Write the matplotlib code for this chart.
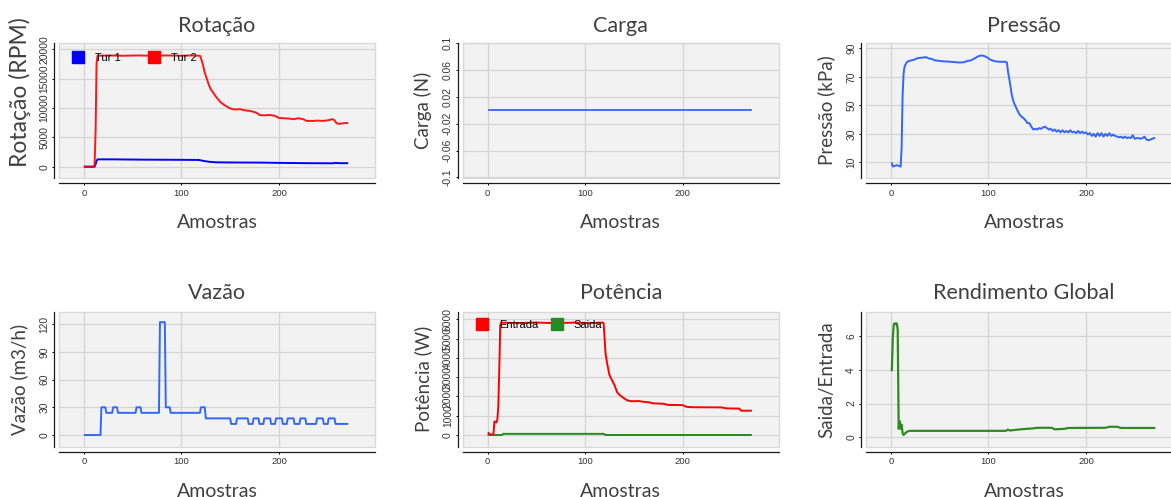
import matplotlib
matplotlib.use('Agg')
import matplotlib.pyplot as plt
from matplotlib.lines import Line2D
from matplotlib import font_manager

names = {f.name for f in font_manager.fontManager.ttflist}
NARROW = 'Liberation Sans Narrow' if 'Liberation Sans Narrow' in names else 'Liberation Sans'
plt.rcParams['font.family'] = ['Lato', 'DejaVu Sans']

# ---------------- data ----------------
rot_x_tur1 = [1, 11, 12, 13, 14, 30, 60, 90, 118, 122, 128, 135, 150, 180, 200, 230, 255, 258, 262, 270]
rot_y_tur1 = [0, 0, 400, 1000, 1250, 1250, 1200, 1180, 1150, 1000, 850, 750, 720, 700, 650, 600, 580, 650, 600, 600]
rot_x_tur2 = [1, 10, 11, 12, 13, 14, 25, 40, 55, 70, 85, 100, 110, 119, 120, 122, 124, 126, 128, 130,
              133, 136, 140, 144, 148, 152, 156, 160, 165, 170, 175, 178, 180, 185, 190, 195,
              198, 200, 205, 210, 215, 220, 225, 228, 235, 240, 245, 250, 255, 257, 259, 262, 266, 270]
rot_y_tur2 = [0, 0, 300, 6000, 17500, 18900, 18950, 18900, 18950, 18900, 18950, 18900, 18950, 18900, 18500, 17400, 16000, 15000, 14000, 13200,
              12500, 11800, 11000, 10500, 10100, 9800, 9750, 9800, 9600, 9500, 9300, 9100, 8800, 8750, 8800, 8700,
              8500, 8300, 8250, 8200, 8100, 8250, 8100, 7800, 7800, 7850, 7800, 7900, 8100, 7900, 7400, 7300, 7400, 7450]

carga_x = [1, 270]
carga_y = [0, 0]

pres_x = [1, 2, 4, 6, 8, 10, 11, 12, 13, 14, 16, 18, 21, 24, 27, 30, 33, 36, 39, 42, 45, 48, 51, 55, 60, 65, 70, 75,
          78, 82, 86, 90, 93, 96, 99, 102, 106, 110, 114, 118, 119, 120, 122, 124, 126, 128, 130, 132, 134, 136,
          138, 140, 142, 144, 146,
          148, 150, 152, 154, 156, 158, 160, 162, 164, 166, 168, 170, 172, 174, 176, 178, 180, 182, 184, 186,
          188, 190, 192, 194, 196, 198, 200, 202, 204, 206, 208, 210, 212, 214, 216, 218, 220, 222, 224, 226,
          228, 230, 232, 234, 236, 238, 240, 242, 244, 246, 248, 250, 252, 254, 256, 258, 260, 262, 264, 266,
          268, 270]
pres_y = [9.3, 7, 7.5, 8, 7.5, 7, 20, 56, 72, 77, 80, 81, 81.5, 82, 83, 83.3, 83.5, 83.8, 82.8, 82.5, 81.5, 81.3, 81, 80.8, 80.6, 80.3, 80, 80.2,
          81, 81.5, 83, 84.5, 85, 84.5, 83.5, 82, 81, 80.6, 80.5, 80.5, 80, 74, 66, 57, 52, 49, 46, 43.5, 42, 41,
          39.5, 37.5, 37.5, 35, 33,
          33.5, 33, 34, 33.5, 34.5, 35, 34, 33, 33.5, 32, 33, 31.5, 32.5, 31, 32.5, 31, 32, 31, 32.5, 31,
          31.5, 30.5, 32, 30.5, 31.5, 30.5, 31, 29.5, 30.5, 28.5, 30, 28, 30.5, 28.5, 30.5, 28, 30, 28.5, 30.5, 28.5,
          29.5, 28.5, 28, 27.5, 28, 27, 28, 27, 27.5, 27, 29, 26.5, 27, 27, 26.5, 27, 28, 26, 25.5, 26,
          26.5, 27]

vaz_x = [1, 17, 18, 22, 23, 29, 30, 34, 35, 53, 54, 58, 59, 77, 78, 83, 84, 88, 89, 119,
         120, 124, 125, 150, 151, 156, 157, 168, 169, 173, 174, 179, 180, 184, 185, 191, 192, 196, 197, 203,
         204, 208, 209, 215, 216, 221, 222, 227, 228, 238, 239, 245, 246, 250, 251, 257, 258, 270]
vaz_y = [0, 0, 30, 30, 24, 24, 30, 30, 24, 24, 30, 30, 24, 24, 122, 122, 30, 30, 24, 24,
         30, 30, 18, 18, 12, 12, 18, 18, 12, 12, 18, 18, 12, 12, 18, 18, 12, 12, 18, 18,
         12, 12, 18, 18, 12, 12, 18, 18, 12, 12, 18, 18, 12, 12, 18, 18, 12, 12]

pot_x_ent = [1, 2, 6, 7, 9, 10, 11, 12, 13, 14, 30, 50, 70, 90, 105, 118, 119, 120, 121, 123,
             125, 127, 130, 133, 136, 140, 143, 147, 155, 160, 165, 170, 180, 185, 200, 204, 210, 240, 245, 258,
             260, 270]
pot_y_ent = [100, 30, 30, 700, 650, 800, 1500, 3400, 5700, 5830, 5800, 5830, 5800, 5830, 5800, 5830, 5800, 5000, 4200, 3600,
             3100, 2900, 2600, 2200, 2050, 1900, 1800, 1750, 1760, 1720, 1700, 1640, 1620, 1560, 1550, 1460, 1440, 1430, 1380, 1370,
             1260, 1260]
pot_x_sai = [1, 15, 16, 119, 121, 270]
pot_y_sai = [0, 0, 60, 60, 0, 0]

ren_x = [1, 2, 3, 4, 5, 6, 7, 8, 9, 10, 11, 12, 13, 15, 17, 20, 60, 100, 118, 120, 122, 125,
         130, 135, 140, 145, 150, 165, 168, 178, 182, 220, 224, 232, 236, 270]
ren_y = [3.98, 5.9, 6.7, 6.75, 6.7, 6.75, 6.4, 0.5, 0.95, 0.5, 0.75, 0.25, 0.14, 0.25, 0.35, 0.38, 0.38, 0.38, 0.38, 0.45, 0.4, 0.42,
         0.45, 0.48, 0.5, 0.52, 0.56, 0.56, 0.47, 0.5, 0.55, 0.56, 0.62, 0.62, 0.55, 0.55]

x_ticks = [0, 100, 200]
rot_ticks = [0, 5000, 10000, 15000, 20000]
carga_ticks = [-0.1, -0.06, -0.02, 0.02, 0.06, 0.1]
carga_labels = ['-0.1', '-0.06', '-0.02', '0.02', '0.06', '0.1']
pres_ticks = [10, 30, 50, 70, 90]
vaz_ticks = [0, 30, 60, 90, 120]
pot_ticks = [0, 1000, 2000, 3000, 4000, 5000, 6000]
ren_ticks = [0, 2, 4, 6]

# ---------------- layout ----------------
W, H = 1171, 497
PW, PH = 316, 135
fig = plt.figure(figsize=(W / 100, H / 100), dpi=100)

BLUE = '#3366ff'
TXT = '#404040'


def make_ax(left, top, title, xlabel, ylabel, ylim, yticks, ylabels=None, title_off=11, ylab_y=0.5):
    ax = fig.add_axes([left / W, 1 - (top + PH) / H, PW / W, PH / H])
    ax.set_facecolor('#f2f2f2')
    ax.patch.set_edgecolor('#d9d9d9')
    ax.patch.set_linewidth(1.0)
    for s in ['top', 'right']:
        ax.spines[s].set_visible(False)
    for s in ['left', 'bottom']:
        ax.spines[s].set_position(('outward', 3.6))
        ax.spines[s].set_color('#1a1a1a')
        ax.spines[s].set_linewidth(0.9)
    ax.grid(True, color='#d4d4d4', lw=0.9)
    ax.set_axisbelow(True)
    ax.set_xlim(-25.5, 298.5)
    ax.set_xticks(x_ticks)
    ax.set_ylim(*ylim)
    ax.set_yticks(yticks)
    if ylabels is not None:
        ax.set_yticklabels(ylabels)
    ax.tick_params(axis='x', direction='out', length=1.5, width=0.7, pad=2.5,
                   labelsize=6.8, labelfontfamily=NARROW, labelcolor='#333333')
    ax.tick_params(axis='y', direction='out', length=1.5, width=0.7, pad=2.0,
                   labelsize=7.4, labelfontfamily='Liberation Sans', labelcolor='#333333',
                   labelrotation=90)
    for lab in ax.get_yticklabels():
        lab.set_va('center')
    ax.text(0.5, 1 + title_off / PH, title, transform=ax.transAxes, ha='center',
            va='baseline', fontsize=15.5, color=TXT)
    ax.set_xlabel(xlabel, fontsize=14, color=TXT, va='baseline')
    ax.xaxis.set_label_coords(0.5, -50.5 / PH)
    ax.set_ylabel(ylabel, fontsize=13.5, color=TXT, va='center')
    ax.yaxis.set_label_coords(-39.5 / PW, ylab_y)
    return ax


lefts = [59, 462.7, 866]
tops = [43, 311.7]

# Rotação
ax1 = make_ax(lefts[0], tops[0], 'Rotação', 'Amostras', 'Rotação (RPM)', (-1925, 21070), rot_ticks,
              ylab_y=(178 - 92.5) / PH)
ax1.yaxis.label.set_fontsize(16.5)
ax1.plot(rot_x_tur1, rot_y_tur1, color='#0000ff', lw=1.4)
ax1.plot(rot_x_tur2, rot_y_tur2, color='#ff0000', lw=1.4, alpha=0.9)
h1 = [Line2D([], [], marker='s', ls='none', markersize=9, color='#0000ff'),
      Line2D([], [], marker='s', ls='none', markersize=9, color='#ff0000')]
ax1.legend(h1, ['Tur 1', 'Tur 2'], loc='center left', bbox_to_anchor=((70.5 - 59) / PW, (178 - 58) / PH),
           ncol=2, frameon=False, handlelength=1.4, handletextpad=0.8, columnspacing=2.3,
           borderpad=0, borderaxespad=0, prop={'family': NARROW, 'size': 8})

# Carga
ax2 = make_ax(lefts[1], tops[0], 'Carga', 'Amostras', 'Carga (N)', (-0.101, 0.1005), carga_ticks, carga_labels)
ax2.plot(carga_x, carga_y, color=BLUE, lw=1.3)

# Pressão
ax3 = make_ax(lefts[2], tops[0], 'Pressão', 'Amostras', 'Pressão (kPa)', (-1.0, 93.7), pres_ticks)
ax3.plot(pres_x, pres_y, color=BLUE, lw=1.4)

# Vazão
ax4 = make_ax(lefts[0], tops[1], 'Vazão', 'Amostras', 'Vazão (m3/h)', (-12.6, 133.3), vaz_ticks, title_off=12.4)
ax4.plot(vaz_x, vaz_y, color=BLUE, lw=1.4)

# Potência
ax5 = make_ax(lefts[1], tops[1], 'Potência', 'Amostras', 'Potência (W)', (-607, 6394), pot_ticks, title_off=12.4)
ax5.plot(pot_x_sai, pot_y_sai, color='#228b22', lw=1.4)
ax5.plot(pot_x_ent, pot_y_ent, color='#ff0000', lw=1.4)
h5 = [Line2D([], [], marker='s', ls='none', markersize=9, color='#ff0000'),
      Line2D([], [], marker='s', ls='none', markersize=9, color='#228b22')]
ax5.legend(h5, ['Entrada', 'Saida'], loc='center left', bbox_to_anchor=((474.3 - 462.7) / PW, (446.7 - 324.5) / PH),
           ncol=2, frameon=False, handlelength=1.4, handletextpad=0.8, columnspacing=1.0,
           borderpad=0, borderaxespad=0, prop={'family': NARROW, 'size': 8})

# Rendimento Global
ax6 = make_ax(lefts[2], tops[1], 'Rendimento Global', 'Amostras', 'Saida/Entrada', (-0.56, 7.44), ren_ticks, title_off=12.4)
ax6.plot(ren_x, ren_y, color='#2f8a1f', lw=1.6)

fig.savefig('out.png', dpi=100)
